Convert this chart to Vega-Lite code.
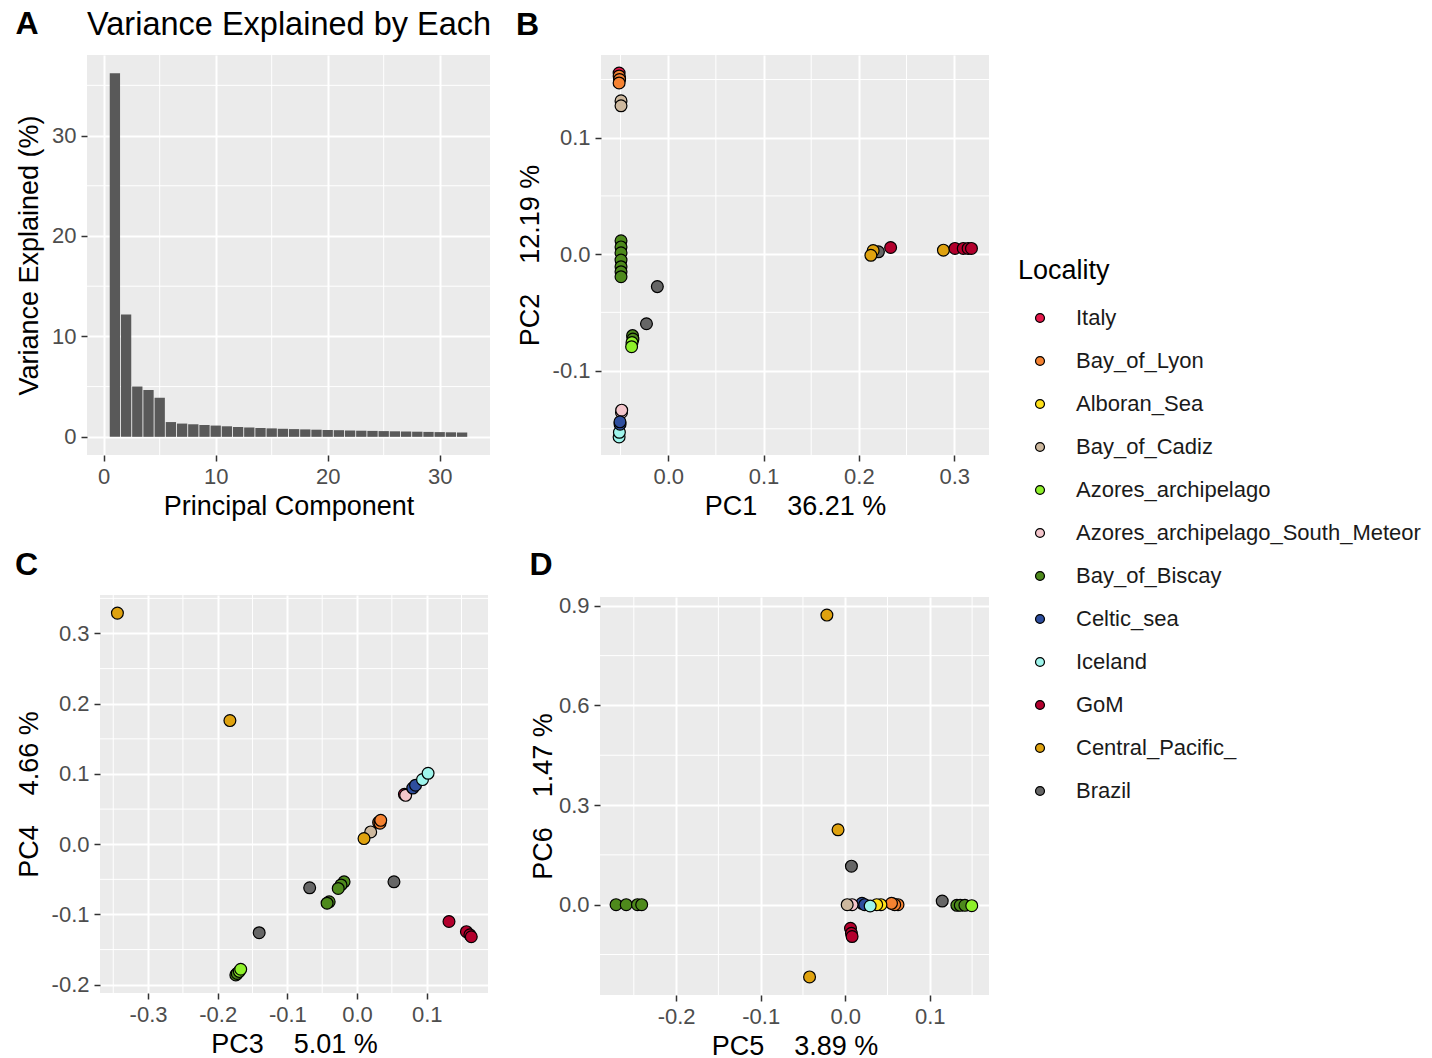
{
  "$schema": "https://vega.github.io/schema/vega-lite/v6.json",
  "background": "white",
  "padding": {"left": -10, "top": 8, "right": 10, "bottom": 4},
  "config": {
    "font": "Liberation Sans",
    "view": {"fill": "#ebebeb", "stroke": null},
    "axis": {"grid": true, "gridColor": "white", "gridWidth": 2, "domain": false, "tickColor": "#333333", "tickSize": 6, "tickWidth": 1.5, "labelColor": "#4d4d4d", "labelFontSize": 22, "labelPadding": 5, "titleFontSize": 27, "titleFontWeight": "normal", "titleColor": "black", "titlePadding": 8},
    "axisX": {"titlePadding": 6},
    "title": {"fontSize": 32, "fontWeight": "bold", "anchor": "start", "frame": "bounds", "color": "black", "offset": 13},
    "legend": {"titleFontSize": 27, "titleFontWeight": "normal", "titleColor": "black", "titlePadding": 22, "labelFontSize": 22, "labelColor": "#1a1a1a", "labelLimit": 0, "symbolSize": 80, "symbolStrokeColor": "black", "symbolStrokeWidth": 1.2, "symbolType": "circle", "symbolOffset": 11, "labelOffset": 25, "rowPadding": 21}
  },
  "datasets": {
    "scree": [
      {"PC": 1, "Variance": 36.21}, {"PC": 2, "Variance": 12.19}, {"PC": 3, "Variance": 5.01}, {"PC": 4, "Variance": 4.66},
      {"PC": 5, "Variance": 3.89}, {"PC": 6, "Variance": 1.47}, {"PC": 7, "Variance": 1.32}, {"PC": 8, "Variance": 1.25},
      {"PC": 9, "Variance": 1.18}, {"PC": 10, "Variance": 1.12}, {"PC": 11, "Variance": 1.05}, {"PC": 12, "Variance": 0.98},
      {"PC": 13, "Variance": 0.93}, {"PC": 14, "Variance": 0.88}, {"PC": 15, "Variance": 0.84}, {"PC": 16, "Variance": 0.8},
      {"PC": 17, "Variance": 0.77}, {"PC": 18, "Variance": 0.74}, {"PC": 19, "Variance": 0.71}, {"PC": 20, "Variance": 0.68},
      {"PC": 21, "Variance": 0.66}, {"PC": 22, "Variance": 0.63}, {"PC": 23, "Variance": 0.61}, {"PC": 24, "Variance": 0.59},
      {"PC": 25, "Variance": 0.57}, {"PC": 26, "Variance": 0.55}, {"PC": 27, "Variance": 0.53}, {"PC": 28, "Variance": 0.51},
      {"PC": 29, "Variance": 0.49}, {"PC": 30, "Variance": 0.47}, {"PC": 31, "Variance": 0.45}, {"PC": 32, "Variance": 0.43}
    ],
    "pc12": [
      {"Locality": "Alboran_Sea", "PC1": -0.051, "PC2": 0.151},
      {"Locality": "Italy", "PC1": -0.0515, "PC2": 0.1555},
      {"Locality": "Bay_of_Lyon", "PC1": -0.0515, "PC2": 0.153},
      {"Locality": "Bay_of_Lyon", "PC1": -0.051, "PC2": 0.15},
      {"Locality": "Bay_of_Lyon", "PC1": -0.0515, "PC2": 0.147},
      {"Locality": "Bay_of_Cadiz", "PC1": -0.0495, "PC2": 0.1316},
      {"Locality": "Bay_of_Cadiz", "PC1": -0.0495, "PC2": 0.1274},
      {"Locality": "Bay_of_Biscay", "PC1": -0.0495, "PC2": 0.0114},
      {"Locality": "Bay_of_Biscay", "PC1": -0.0495, "PC2": 0.0062},
      {"Locality": "Bay_of_Biscay", "PC1": -0.0495, "PC2": 0.0011},
      {"Locality": "Bay_of_Biscay", "PC1": -0.0495, "PC2": -0.0051},
      {"Locality": "Bay_of_Biscay", "PC1": -0.0495, "PC2": -0.0108},
      {"Locality": "Bay_of_Biscay", "PC1": -0.0495, "PC2": -0.0151},
      {"Locality": "Bay_of_Biscay", "PC1": -0.0495, "PC2": -0.0194},
      {"Locality": "Bay_of_Biscay", "PC1": -0.0374, "PC2": -0.07},
      {"Locality": "Bay_of_Biscay", "PC1": -0.037, "PC2": -0.073},
      {"Locality": "Azores_archipelago", "PC1": -0.038, "PC2": -0.076},
      {"Locality": "Azores_archipelago", "PC1": -0.0384, "PC2": -0.0795},
      {"Locality": "Brazil", "PC1": -0.0114, "PC2": -0.0279},
      {"Locality": "Brazil", "PC1": -0.0228, "PC2": -0.0598},
      {"Locality": "Azores_archipelago_South_Meteor", "PC1": -0.049, "PC2": -0.136},
      {"Locality": "Azores_archipelago_South_Meteor", "PC1": -0.0488, "PC2": -0.134},
      {"Locality": "Iceland", "PC1": -0.0515, "PC2": -0.157},
      {"Locality": "Iceland", "PC1": -0.0512, "PC2": -0.153},
      {"Locality": "Celtic_sea", "PC1": -0.0505, "PC2": -0.146},
      {"Locality": "Celtic_sea", "PC1": -0.0506, "PC2": -0.144},
      {"Locality": "Brazil", "PC1": 0.2205, "PC2": 0.002},
      {"Locality": "Central_Pacific_", "PC1": 0.215, "PC2": 0.003},
      {"Locality": "Central_Pacific_", "PC1": 0.2126, "PC2": -0.001},
      {"Locality": "GoM", "PC1": 0.2333, "PC2": 0.0057},
      {"Locality": "Central_Pacific_", "PC1": 0.2887, "PC2": 0.0034},
      {"Locality": "GoM", "PC1": 0.3008, "PC2": 0.0049},
      {"Locality": "GoM", "PC1": 0.3095, "PC2": 0.0049},
      {"Locality": "GoM", "PC1": 0.3146, "PC2": 0.0049},
      {"Locality": "GoM", "PC1": 0.3181, "PC2": 0.0049}
    ],
    "pc34": [
      {"Locality": "Central_Pacific_", "PC3": -0.344, "PC4": 0.329},
      {"Locality": "Central_Pacific_", "PC3": -0.1825, "PC4": 0.176},
      {"Locality": "Italy", "PC3": 0.068, "PC4": 0.071},
      {"Locality": "Azores_archipelago_South_Meteor", "PC3": 0.0698, "PC4": 0.0696},
      {"Locality": "Celtic_sea", "PC3": 0.08, "PC4": 0.08},
      {"Locality": "Celtic_sea", "PC3": 0.084, "PC4": 0.084},
      {"Locality": "Iceland", "PC3": 0.094, "PC4": 0.092},
      {"Locality": "Iceland", "PC3": 0.102, "PC4": 0.101},
      {"Locality": "Alboran_Sea", "PC3": 0.032, "PC4": 0.032},
      {"Locality": "Bay_of_Lyon", "PC3": 0.031, "PC4": 0.031},
      {"Locality": "Bay_of_Lyon", "PC3": 0.033, "PC4": 0.03},
      {"Locality": "Bay_of_Lyon", "PC3": 0.034, "PC4": 0.034},
      {"Locality": "Bay_of_Cadiz", "PC3": 0.0196, "PC4": 0.0175},
      {"Locality": "Central_Pacific_", "PC3": 0.01, "PC4": 0.008},
      {"Locality": "Brazil", "PC3": -0.068, "PC4": -0.062},
      {"Locality": "Brazil", "PC3": 0.053, "PC4": -0.0535},
      {"Locality": "Brazil", "PC3": -0.1405, "PC4": -0.126},
      {"Locality": "Bay_of_Biscay", "PC3": -0.0186, "PC4": -0.0535},
      {"Locality": "Bay_of_Biscay", "PC3": -0.023, "PC4": -0.058},
      {"Locality": "Bay_of_Biscay", "PC3": -0.027, "PC4": -0.063},
      {"Locality": "Bay_of_Biscay", "PC3": -0.04, "PC4": -0.082},
      {"Locality": "Bay_of_Biscay", "PC3": -0.043, "PC4": -0.084},
      {"Locality": "Bay_of_Biscay", "PC3": -0.174, "PC4": -0.186},
      {"Locality": "Bay_of_Biscay", "PC3": -0.172, "PC4": -0.184},
      {"Locality": "Azores_archipelago", "PC3": -0.169, "PC4": -0.181},
      {"Locality": "Azores_archipelago", "PC3": -0.167, "PC4": -0.178},
      {"Locality": "GoM", "PC3": 0.132, "PC4": -0.11},
      {"Locality": "GoM", "PC3": 0.157, "PC4": -0.1245},
      {"Locality": "GoM", "PC3": 0.162, "PC4": -0.129},
      {"Locality": "GoM", "PC3": 0.164, "PC4": -0.1317}
    ],
    "pc56": [
      {"Locality": "Bay_of_Biscay", "PC5": -0.271, "PC6": 0.0},
      {"Locality": "Bay_of_Biscay", "PC5": -0.259, "PC6": 0.0},
      {"Locality": "Bay_of_Biscay", "PC5": -0.2457, "PC6": 0.0},
      {"Locality": "Bay_of_Biscay", "PC5": -0.2407, "PC6": 0.0},
      {"Locality": "Central_Pacific_", "PC5": -0.0217, "PC6": 0.872},
      {"Locality": "Central_Pacific_", "PC5": -0.0085, "PC6": 0.2255},
      {"Locality": "Central_Pacific_", "PC5": -0.0422, "PC6": -0.2176},
      {"Locality": "Brazil", "PC5": 0.0073, "PC6": 0.116},
      {"Locality": "GoM", "PC5": 0.0062, "PC6": -0.071},
      {"Locality": "GoM", "PC5": 0.0073, "PC6": -0.086},
      {"Locality": "GoM", "PC5": 0.0081, "PC6": -0.096},
      {"Locality": "Italy", "PC5": 0.057, "PC6": 0.002},
      {"Locality": "Bay_of_Lyon", "PC5": 0.0624, "PC6": 0.0},
      {"Locality": "Bay_of_Lyon", "PC5": 0.0585, "PC6": 0.0},
      {"Locality": "Bay_of_Lyon", "PC5": 0.0547, "PC6": 0.004},
      {"Locality": "Alboran_Sea", "PC5": 0.0422, "PC6": 0.0},
      {"Locality": "Alboran_Sea", "PC5": 0.0372, "PC6": 0.0},
      {"Locality": "Celtic_sea", "PC5": 0.0198, "PC6": 0.004},
      {"Locality": "Celtic_sea", "PC5": 0.023, "PC6": 0.0},
      {"Locality": "Iceland", "PC5": 0.0295, "PC6": -0.004},
      {"Locality": "Azores_archipelago_South_Meteor", "PC5": 0.0081, "PC6": 0.0},
      {"Locality": "Bay_of_Cadiz", "PC5": 0.0023, "PC6": 0.0},
      {"Locality": "Brazil", "PC5": 0.1147, "PC6": 0.011},
      {"Locality": "Bay_of_Biscay", "PC5": 0.132, "PC6": -0.002},
      {"Locality": "Bay_of_Biscay", "PC5": 0.136, "PC6": -0.002},
      {"Locality": "Bay_of_Biscay", "PC5": 0.1415, "PC6": -0.002},
      {"Locality": "Azores_archipelago", "PC5": 0.1496, "PC6": -0.003}
    ]
  },
  "resolve": {"scale": {"fill": "shared"}, "legend": {"fill": "shared"}},
  "concat": [
    {"width": 1, "height": 1, "view": {"fill": "white", "stroke": null}, "data": {"values": []}, "mark": {"type": "point", "opacity": 0}},
    {
      "title": {"text": "A", "offset": -32},
      "vconcat": [
        {
          "width": 403, "height": 400,
          "title": {"text": "Variance Explained by Each", "frame": "group", "fontWeight": "normal", "fontSize": 32.5, "dx": 0},
          "layer": [
            {"data": {"values": [{"v": 5}, {"v": 15}, {"v": 25}]}, "mark": {"type": "rule", "color": "white", "strokeWidth": 1},
             "encoding": {"x": {"field": "v", "type": "quantitative", "scale": {"domain": [-1.045, 34.045], "nice": false, "zero": false}, "axis": {"values": [0, 10, 20, 30], "title": "Principal Component"}}}},
            {"data": {"values": [{"v": 5}, {"v": 15}, {"v": 25}, {"v": 35}]}, "mark": {"type": "rule", "color": "white", "strokeWidth": 1},
             "encoding": {"y": {"field": "v", "type": "quantitative", "scale": {"domain": [-1.81, 38.02], "nice": false, "zero": false}, "axis": {"values": [0, 10, 20, 30], "title": "Variance Explained (%)"}}}},
            {"data": {"name": "scree"}, "mark": {"type": "bar", "width": 10.3, "color": "#595959"},
             "encoding": {
               "x": {"field": "PC", "type": "quantitative", "scale": {"domain": [-1.045, 34.045], "nice": false, "zero": false}, "axis": {"values": [0, 10, 20, 30], "title": "Principal Component"}},
               "y": {"field": "Variance", "type": "quantitative", "scale": {"domain": [-1.81, 38.02], "nice": false, "zero": false}, "axis": {"values": [0, 10, 20, 30], "title": "Variance Explained (%)"}}
             }}
          ]
        }
      ]
    },
    {
      "width": 388, "height": 400,
      "title": "B",
      "layer": [
        {"data": {"values": [{"v": -0.05}, {"v": 0.05}, {"v": 0.15}, {"v": 0.25}]}, "mark": {"type": "rule", "color": "white", "strokeWidth": 1},
         "encoding": {"x": {"field": "v", "type": "quantitative", "scale": {"domain": [-0.0705, 0.3365], "nice": false, "zero": false}, "axis": {"values": [0, 0.1, 0.2, 0.3], "labelExpr": "replace(format(datum.value, '.1f'), '\u2212', '-')", "title": "PC1\u00a0\u00a0\u00a0\u00a036.21 %"}}}},
        {"data": {"values": [{"v": -0.15}, {"v": -0.05}, {"v": 0.05}, {"v": 0.15}]}, "mark": {"type": "rule", "color": "white", "strokeWidth": 1},
         "encoding": {"y": {"field": "v", "type": "quantitative", "scale": {"domain": [-0.1725, 0.171], "nice": false, "zero": false}, "axis": {"values": [-0.1, 0, 0.1], "labelExpr": "replace(format(datum.value, '.1f'), '\u2212', '-')", "title": "PC2\u00a0\u00a0\u00a0\u00a012.19 %"}}}},
        {"data": {"name": "pc12"}, "mark": {"type": "circle", "size": 140, "stroke": "black", "strokeWidth": 1.2, "opacity": 1},
         "encoding": {
           "x": {"field": "PC1", "type": "quantitative", "scale": {"domain": [-0.0705, 0.3365], "nice": false, "zero": false}, "axis": {"values": [0, 0.1, 0.2, 0.3], "labelExpr": "replace(format(datum.value, '.1f'), '\u2212', '-')", "title": "PC1\u00a0\u00a0\u00a0\u00a036.21 %"}},
           "y": {"field": "PC2", "type": "quantitative", "scale": {"domain": [-0.1725, 0.171], "nice": false, "zero": false}, "axis": {"values": [-0.1, 0, 0.1], "labelExpr": "replace(format(datum.value, '.1f'), '\u2212', '-')", "title": "PC2\u00a0\u00a0\u00a0\u00a012.19 %"}},
           "fill": {"field": "Locality", "type": "nominal",
             "scale": {"domain": ["Italy", "Bay_of_Lyon", "Alboran_Sea", "Bay_of_Cadiz", "Azores_archipelago", "Azores_archipelago_South_Meteor", "Bay_of_Biscay", "Celtic_sea", "Iceland", "GoM", "Central_Pacific_", "Brazil"],
                       "range": ["#e6194b", "#f58231", "#ffe119", "#cdb89e", "#8ef02a", "#f4c6cc", "#4e8a1c", "#2e4e9e", "#9ff5ec", "#b3002d", "#dfa20f", "#666666"]},
             "legend": {"title": "Locality", "orient": "none", "legendX": 1028, "legendY": 203}}
         }}
      ]
    },
    {"width": 1, "height": 1, "view": {"fill": "white", "stroke": null}, "data": {"values": []}, "mark": {"type": "point", "opacity": 0}},
    {
      "title": "C",
      "vconcat": [
        {
          "width": 388, "height": 398,
          "layer": [
            {"data": {"values": [{"v": -0.35}, {"v": -0.25}, {"v": -0.15}, {"v": -0.05}, {"v": 0.05}, {"v": 0.15}]}, "mark": {"type": "rule", "color": "white", "strokeWidth": 1},
             "encoding": {"x": {"field": "v", "type": "quantitative", "scale": {"domain": [-0.369, 0.188], "nice": false, "zero": false}, "axis": {"values": [-0.3, -0.2, -0.1, 0, 0.1], "labelExpr": "replace(format(datum.value, '.1f'), '\u2212', '-')", "title": "PC3\u00a0\u00a0\u00a0\u00a05.01 %"}}}},
            {"data": {"values": [{"v": -0.15}, {"v": -0.05}, {"v": 0.05}, {"v": 0.15}, {"v": 0.25}, {"v": 0.35}]}, "mark": {"type": "rule", "color": "white", "strokeWidth": 1},
             "encoding": {"y": {"field": "v", "type": "quantitative", "scale": {"domain": [-0.2118, 0.3548], "nice": false, "zero": false}, "axis": {"values": [-0.2, -0.1, 0, 0.1, 0.2, 0.3], "labelExpr": "replace(format(datum.value, '.1f'), '\u2212', '-')", "title": "PC4\u00a0\u00a0\u00a0\u00a04.66 %"}}}},
            {"data": {"name": "pc34"}, "mark": {"type": "circle", "size": 140, "stroke": "black", "strokeWidth": 1.2, "opacity": 1},
             "encoding": {
               "x": {"field": "PC3", "type": "quantitative", "scale": {"domain": [-0.369, 0.188], "nice": false, "zero": false}, "axis": {"values": [-0.3, -0.2, -0.1, 0, 0.1], "labelExpr": "replace(format(datum.value, '.1f'), '\u2212', '-')", "title": "PC3\u00a0\u00a0\u00a0\u00a05.01 %"}},
               "y": {"field": "PC4", "type": "quantitative", "scale": {"domain": [-0.2118, 0.3548], "nice": false, "zero": false}, "axis": {"values": [-0.2, -0.1, 0, 0.1, 0.2, 0.3], "labelExpr": "replace(format(datum.value, '.1f'), '\u2212', '-')", "title": "PC4\u00a0\u00a0\u00a0\u00a04.66 %"}},
               "fill": {"field": "Locality", "type": "nominal",
                 "scale": {"domain": ["Italy", "Bay_of_Lyon", "Alboran_Sea", "Bay_of_Cadiz", "Azores_archipelago", "Azores_archipelago_South_Meteor", "Bay_of_Biscay", "Celtic_sea", "Iceland", "GoM", "Central_Pacific_", "Brazil"],
                           "range": ["#e6194b", "#f58231", "#ffe119", "#cdb89e", "#8ef02a", "#f4c6cc", "#4e8a1c", "#2e4e9e", "#9ff5ec", "#b3002d", "#dfa20f", "#666666"]},
                 "legend": {"title": "Locality", "orient": "none", "legendX": 1028, "legendY": 203}}
             }}
          ]
        }
      ]
    },
    {
      "width": 389, "height": 398,
      "title": "D",
      "layer": [
        {"data": {"values": [{"v": -0.25}, {"v": -0.15}, {"v": -0.05}, {"v": 0.05}, {"v": 0.15}]}, "mark": {"type": "rule", "color": "white", "strokeWidth": 1},
         "encoding": {"x": {"field": "v", "type": "quantitative", "scale": {"domain": [-0.29, 0.17], "nice": false, "zero": false}, "axis": {"values": [-0.2, -0.1, 0, 0.1], "labelExpr": "replace(format(datum.value, '.1f'), '\u2212', '-')", "title": "PC5\u00a0\u00a0\u00a0\u00a03.89 %"}}}},
        {"data": {"values": [{"v": -0.15}, {"v": 0.15}, {"v": 0.45}, {"v": 0.75}]}, "mark": {"type": "rule", "color": "white", "strokeWidth": 1},
         "encoding": {"y": {"field": "v", "type": "quantitative", "scale": {"domain": [-0.272, 0.9265], "nice": false, "zero": false}, "axis": {"values": [0, 0.3, 0.6, 0.9], "labelExpr": "replace(format(datum.value, '.1f'), '\u2212', '-')", "title": "PC6\u00a0\u00a0\u00a0\u00a01.47 %", "titlePadding": 1}}}},
        {"data": {"name": "pc56"}, "mark": {"type": "circle", "size": 140, "stroke": "black", "strokeWidth": 1.2, "opacity": 1},
         "encoding": {
           "x": {"field": "PC5", "type": "quantitative", "scale": {"domain": [-0.29, 0.17], "nice": false, "zero": false}, "axis": {"values": [-0.2, -0.1, 0, 0.1], "labelExpr": "replace(format(datum.value, '.1f'), '\u2212', '-')", "title": "PC5\u00a0\u00a0\u00a0\u00a03.89 %"}},
           "y": {"field": "PC6", "type": "quantitative", "scale": {"domain": [-0.272, 0.9265], "nice": false, "zero": false}, "axis": {"values": [0, 0.3, 0.6, 0.9], "labelExpr": "replace(format(datum.value, '.1f'), '\u2212', '-')", "title": "PC6\u00a0\u00a0\u00a0\u00a01.47 %", "titlePadding": 1}},
           "fill": {"field": "Locality", "type": "nominal",
             "scale": {"domain": ["Italy", "Bay_of_Lyon", "Alboran_Sea", "Bay_of_Cadiz", "Azores_archipelago", "Azores_archipelago_South_Meteor", "Bay_of_Biscay", "Celtic_sea", "Iceland", "GoM", "Central_Pacific_", "Brazil"],
                       "range": ["#e6194b", "#f58231", "#ffe119", "#cdb89e", "#8ef02a", "#f4c6cc", "#4e8a1c", "#2e4e9e", "#9ff5ec", "#b3002d", "#dfa20f", "#666666"]},
             "legend": {"title": "Locality", "orient": "none", "legendX": 1028, "legendY": 203}}
         }}
      ]
    }
  ],
  "columns": 3,
  "align": "none",
  "bounds": "full",
  "spacing": {"row": 29, "column": 24}
}
